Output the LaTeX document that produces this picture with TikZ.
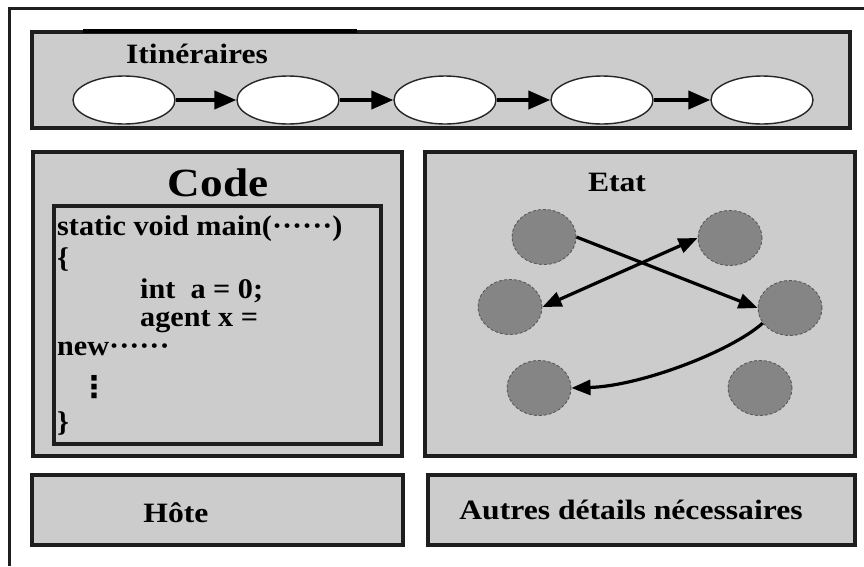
\documentclass[tikz,border=0pt]{standalone}
\usepackage{fontspec}
\setmainfont{Liberation Serif}
\newfontfamily\widefont[FakeStretch=1.13]{Liberation Serif}
\newfontfamily\codefont[FakeStretch=1.06]{Liberation Serif}
\newfontfamily\symfont{DejaVu Sans}
\usetikzlibrary{shapes.geometric,arrows.meta}
\definecolor{panelgray}{HTML}{CCCCCC}
\definecolor{dotgray}{HTML}{858585}
\definecolor{edgegray}{HTML}{1E1E1E}
\tikzset{
  panel/.style={draw=edgegray, line width=3.2pt, fill=panelgray, rectangle, inner sep=0pt},
  itnode/.style={ellipse, draw=black!85, line width=1.4pt, fill=white, minimum width=102pt, minimum height=48pt, inner sep=0pt},
  stnode/.style={ellipse, draw=black!65, densely dashed, line width=0.9pt, fill=dotgray, minimum width=64pt, minimum height=55pt, inner sep=0pt},
  itarrow/.style={line width=4pt, -{Triangle[length=22pt,width=18pt]}},
  starrow/.style={line width=3.2pt, -{Triangle[length=19pt,width=15pt]}},
  lbl/.style={font=\widefont\bfseries\fontsize{28}{30}\selectfont, inner sep=0pt},
  codetxt/.style={font=\codefont\bfseries\fontsize{28.5}{30}\selectfont, inner sep=0pt, anchor=base west},
  vdot/.style={font=\symfont\bfseries\fontsize{30}{32}\selectfont, inner sep=0pt},
}
\begin{document}
\begin{tikzpicture}[x=1pt,y=-1pt]
\useasboundingbox[fill=white] (0,0) rectangle (864,566);
% outer frame (cropped on right and bottom)
\coordinate (fr1) at (864,8);
\coordinate (fr2) at (9,8);
\coordinate (fr3) at (9,566);
\draw[line width=3pt, edgegray] (fr1) -- (fr2) -- (fr3);

% top panel: itineraries
\node[panel, minimum width=818pt, minimum height=96pt] (itin) at (441,80) {};
\coordinate (tl1) at (83,31);
\coordinate (tl2) at (357,31);
\draw[line width=4.5pt, black] (tl1) -- (tl2);
\node[lbl] (itinlbl) at (197,54) {Itinéraires};
\node[itnode] (i1) at (124,100) {};
\node[itnode] (i2) at (288,100) {};
\node[itnode] (i3) at (445,100) {};
\node[itnode] (i4) at (602,100) {};
\node[itnode] (i5) at (762,100) {};
\draw[itarrow] (i1) -- (i2);
\draw[itarrow] (i2) -- (i3);
\draw[itarrow] (i3) -- (i4);
\draw[itarrow] (i4) -- (i5);

% code panel
\node[panel, minimum width=369pt, minimum height=304pt] (code) at (217.5,304) {};
\node[font=\widefont\bfseries\fontsize{40}{42}\selectfont, inner sep=0pt] (codelbl) at (218,183) {Code};
\node[panel, minimum width=327pt, minimum height=238pt] (codebox) at (217.5,325) {};
\node[codetxt] (c1) at (57,235) {static void main(······)};
\node[codetxt] (c2) at (57,267) {\{};
\node[codetxt] (c3) at (140,298) {int\ \ a = 0;};
\node[codetxt] (c4) at (140,326) {agent x =};
\node[codetxt] (c5) at (57,355) {new······};
\node[vdot] (d1) at (94,387) {⋮};
\node[codetxt] (c7) at (57,431) {\}};

% state panel
\node[panel, minimum width=430pt, minimum height=304pt] (etat) at (640,304) {};
\node[lbl] (etatlbl) at (617,182) {Etat};
\node[stnode] (sA) at (544,237) {};
\node[stnode] (sB) at (730,238) {};
\node[stnode] (sC) at (510,307) {};
\node[stnode] (sD) at (790,308) {};
\node[stnode] (sE) at (539,388) {};
\node[stnode] (sF) at (760,388) {};
\draw[starrow] (sA.east) -- (sD.west);
\draw[line width=3.2pt, {Triangle[length=19pt,width=15pt]}-{Triangle[length=19pt,width=15pt]}] (sC.east) -- (sB.west);
\draw[starrow] (sD.209) .. controls (730,352) and (640,386) .. (sE.east);

% bottom panels
\node[panel, minimum width=371pt, minimum height=70pt] (hote) at (217.5,510) {};
\node[lbl] (hotelbl) at (176,513) {Hôte};
\node[panel, minimum width=427pt, minimum height=70pt] (autres) at (641.5,510) {};
\node[lbl] (autreslbl) at (631,510) {Autres détails nécessaires};
\end{tikzpicture}
\end{document}
